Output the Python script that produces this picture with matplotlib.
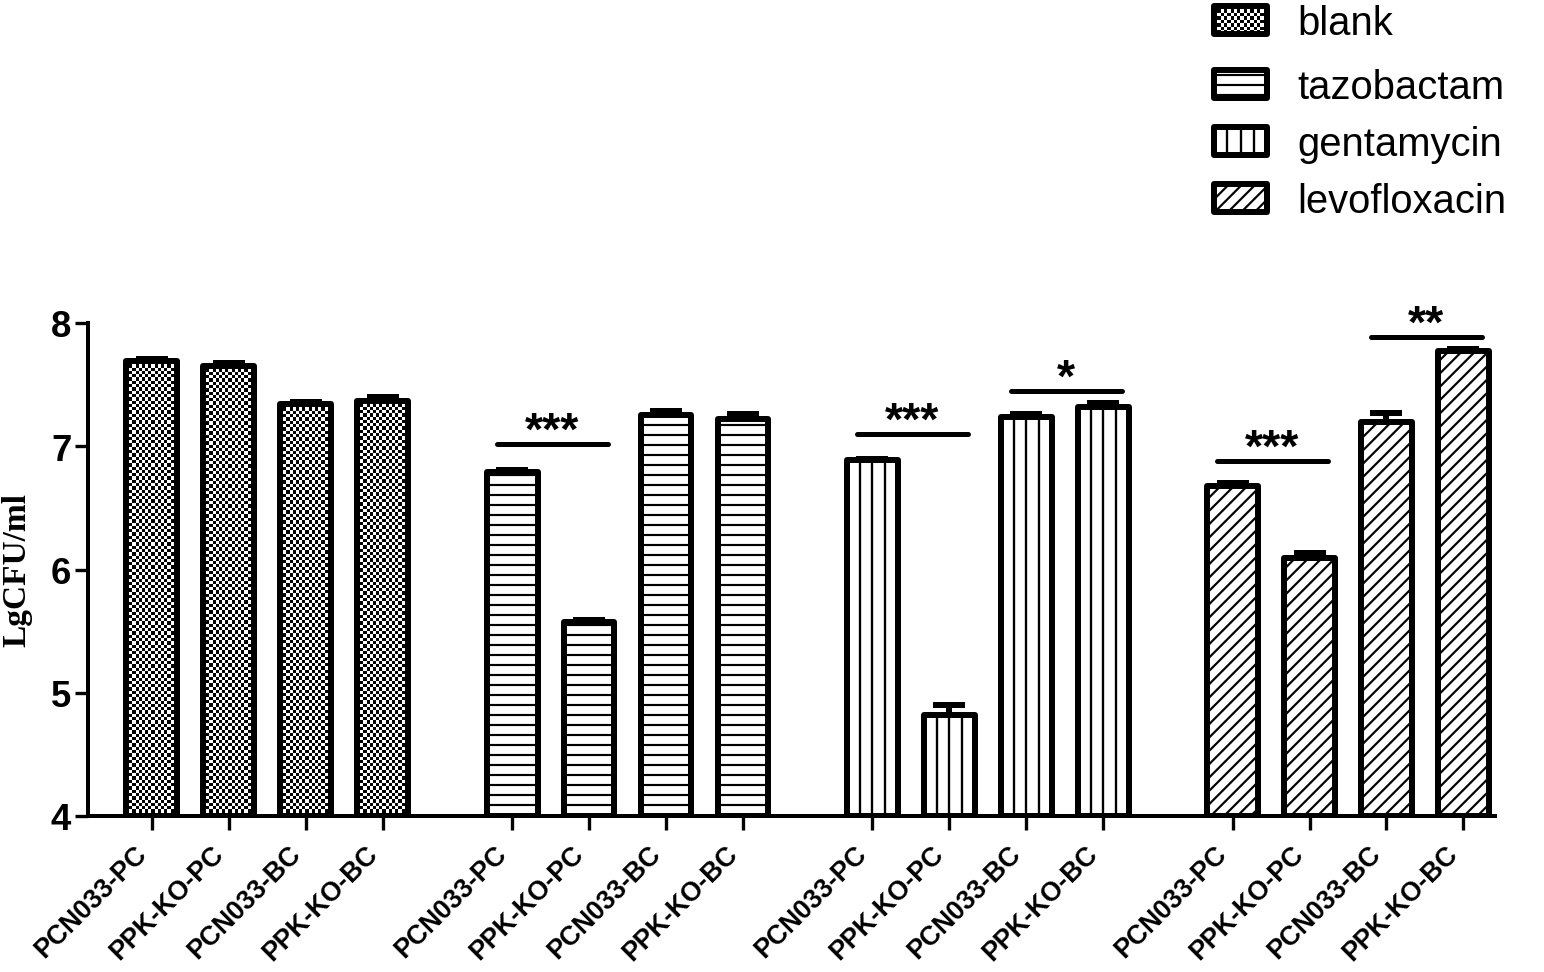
import numpy as np
import matplotlib
matplotlib.use("Agg")
import matplotlib.pyplot as plt
import matplotlib.transforms as mtransforms
from matplotlib.patches import Rectangle

# data
strains = ["PCN033-PC", "PPK-KO-PC", "PCN033-BC", "PPK-KO-BC"]
treatments = ["blank", "tazobactam", "gentamycin", "levofloxacin"]
blank = [7.69, 7.655, 7.34, 7.37]
blank_err = [0.02, 0.02, 0.02, 0.03]
tazobactam = [6.79, 5.57, 7.25, 7.22]
tazobactam_err = [0.02, 0.02, 0.04, 0.04]
gentamycin = [6.89, 4.82, 7.24, 7.32]
gentamycin_err = [0.01, 0.08, 0.02, 0.03]
levofloxacin = [6.68, 6.09, 7.20, 7.77]
levofloxacin_err = [0.02, 0.04, 0.07, 0.02]

# significance brackets: group, pair of bars, line height, label
sig_group = [1, 2, 2, 3, 3]
sig_pair = [(0, 1), (0, 1), (2, 3), (0, 1), (2, 3)]
sig_height = [7.02, 7.10, 7.45, 6.88, 7.89]
sig_label = ["***", "***", "*", "***", "**"]

# style
DPI = 120
BAR_W = 0.66
GROUP_STEP = 4.68
EDGE_LW = 3.6
HATCHES = {"tazobactam": "--", "levofloxacin": "///"}
plt.rcParams["hatch.linewidth"] = 1.3
plt.rcParams["font.family"] = ["Liberation Sans", "DejaVu Sans"]


def checker_fill(ax, patch, x0, x1, y0, y1, nx, ny):
    board = np.indices((ny, nx)).sum(axis=0) % 2
    im = ax.imshow(board, cmap="gray", extent=(x0, x1, y0, y1), aspect="auto",
                   interpolation="nearest", zorder=patch.get_zorder() - 0.5)
    im.set_clip_path(patch)


def draw_group(ax, xs, vals, errs, style):
    heights = [v - 4 for v in vals]
    face = "none" if style == "blank" else "white"
    bars = ax.bar(xs, heights, bottom=4, width=BAR_W, facecolor=face, edgecolor="black",
                  linewidth=EDGE_LW, hatch=HATCHES.get(style), zorder=3, joinstyle="round")
    for x, v, b in zip(xs, vals, bars):
        if style == "blank":
            ny = int(round((v - 4) * 123 / 3.3))
            checker_fill(ax, b, x - BAR_W / 2, x + BAR_W / 2, 4, v, 16, ny)
        elif style == "gentamycin":
            ax.vlines([x - BAR_W / 4, x, x + BAR_W / 4], 4, v, color="black", lw=1.4, zorder=3.2)
    ax.errorbar(xs, vals, yerr=[np.zeros(len(vals)), errs], fmt="none", ecolor="black",
                elinewidth=EDGE_LW, capsize=9.5, capthick=EDGE_LW, zorder=4)


fig = plt.figure(figsize=(1544 / DPI, 973 / DPI), dpi=DPI)
ax = fig.add_axes([88 / 1544, 1 - 817 / 973, (1495 - 88) / 1544, (817 - 324) / 973])

series = [blank, tazobactam, gentamycin, levofloxacin]
errors = [blank_err, tazobactam_err, gentamycin_err, levofloxacin_err]
positions = []
for g, (vals, errs, name) in enumerate(zip(series, errors, treatments)):
    xs = g * GROUP_STEP + np.arange(len(strains))
    positions.append(xs)
    draw_group(ax, xs, vals, errs, name)

for g, (a, b), h, lab in zip(sig_group, sig_pair, sig_height, sig_label):
    xa = positions[g][a] - 0.2
    xb = positions[g][b] + 0.24
    ax.plot([xa, xb], [h, h], color="black", lw=3, solid_capstyle="round", zorder=5, clip_on=False)
    ax.text((xa + xb) / 2, h + 0.1, lab, ha="center", va="center", fontsize=28,
            fontweight="bold", clip_on=False)

ax.set_xlim(-0.83, 3 * GROUP_STEP + 3 + 0.41)
ax.set_ylim(4, 8)
ax.set_yticks([4, 5, 6, 7, 8])
ax.set_xticks(np.concatenate(positions))
ax.set_xticklabels(strains * len(treatments), rotation=45, ha="right", va="top",
                   fontsize=16, fontweight="bold")
shift = mtransforms.ScaledTranslation(5 / DPI, -2 / DPI, fig.dpi_scale_trans)
for lab in ax.get_xticklabels():
    lab.set_transform(lab.get_transform() + shift)
for lab in ax.get_yticklabels():
    lab.set_fontweight("bold")
ax.tick_params(axis="y", labelsize=22, length=8, width=2, pad=2)
ax.tick_params(axis="x", length=8.5, width=2, pad=6)
for side in ["top", "right"]:
    ax.spines[side].set_visible(False)
for side in ["left", "bottom"]:
    ax.spines[side].set_linewidth(2.4)
ax.set_ylabel("LgCFU/ml", family=["Liberation Serif"], fontweight="bold", fontsize=20,
              va="center")
ax.yaxis.set_label_coords(-0.0505, 0.5)

# legend drawn in pixel space at the top right
lax = fig.add_axes([0, 0, 1, 1], zorder=5)
lax.set_xlim(0, 1544)
lax.set_ylim(973, 0)
lax.axis("off")
row_y = [21, 85, 142, 199]
for name, yc in zip(treatments, row_y):
    face = "none" if name == "blank" else "white"
    rect = Rectangle((1214, yc - 14), 53, 28, facecolor=face, edgecolor="black",
                     linewidth=EDGE_LW, hatch=HATCHES.get(name), joinstyle="round", zorder=3)
    lax.add_patch(rect)
    if name == "blank":
        checker_fill(lax, rect, 1214, 1267, yc + 14, yc - 14, 16, 8)
    elif name == "gentamycin":
        lax.vlines([1214 + 53 * k / 4 for k in (1, 2, 3)], yc - 14, yc + 14,
                   color="black", lw=1.4, zorder=3.2)
    lax.text(1297, yc + 3, name, fontsize=24, ha="left", va="center")
lax.set_xlim(0, 1544)
lax.set_ylim(973, 0)

fig.savefig("out.png", dpi=DPI)
